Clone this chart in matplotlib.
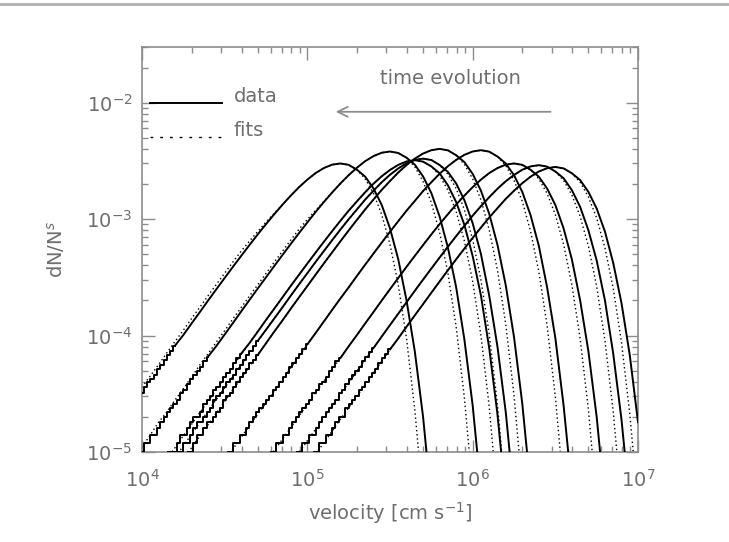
import numpy as np
import matplotlib.pyplot as plt
from matplotlib.lines import Line2D

# velocity bins (cm/s): fine 0.02 dex bins for the sparse low-velocity tails,
# coarse 0.05 dex bins for the well-populated part of each distribution
vel_fine = np.logspace(4, 7, 151)
vel_bins = np.logspace(4, 7, 61)
unit = 1e-5  # all values below are dN/N in units of 1e-5

# snapshots in time order (earliest = fastest); first bin index of each array
tail_start = [52, 47, 39, 26, 14, 11, 8, 0, 0]
body_start = [30, 28, 24, 20, 14, 14, 12, 8, 4]
fit_start = [19, 17, 13, 8, 3, 2, 1, 0, 0]

# low-velocity tails, quantised at one particle (0.2e-5)
tail_1 = [1.0, 1.0, 1.2, 1.2, 1.4, 1.4, 1.6, 1.8, 2.0, 2.0, 2.4, 2.6, 2.8, 3.0, 3.4, 3.6, 4.0, 4.4,
          4.8, 5.2, 5.8, 6.4, 7.0, 7.6]
tail_2 = [1.0, 1.0, 1.2, 1.2, 1.4, 1.4, 1.6, 1.8, 2.0, 2.2, 2.4, 2.6, 2.8, 3.2, 3.4, 3.8, 4.2, 4.6,
          5.0, 5.4, 6.0, 6.6, 7.2, 7.8]
tail_3 = [1.0, 1.0, 1.2, 1.2, 1.4, 1.4, 1.6, 1.8, 2.0, 2.2, 2.4, 2.6, 2.8, 3.2, 3.4, 3.8, 4.0, 4.4,
          5.0, 5.4, 6.0, 6.4]
tail_4 = [1.0, 1.0, 1.2, 1.2, 1.4, 1.4, 1.6, 1.8, 2.0, 2.2, 2.4, 2.6, 2.8, 3.0, 3.4, 3.6, 4.0, 4.4,
          4.8, 5.4, 5.8, 6.4, 7.0, 7.6, 8.4]
tail_5 = [1.0, 1.0, 1.2, 1.4, 1.4, 1.6, 1.8, 1.8, 2.0, 2.2, 2.4, 2.8, 3.0, 3.2, 3.6, 4.0, 4.4, 4.8,
          5.2, 5.8, 6.2, 6.8]
tail_6 = [1.0, 1.0, 1.2, 1.2, 1.4, 1.6, 1.8, 1.8, 2.0, 2.2, 2.4, 2.8, 3.0, 3.2, 3.6, 4.0, 4.2, 4.6,
          5.2, 5.6, 6.2, 6.8, 7.4, 8.2, 9.0]
tail_7 = [1.0, 1.0, 1.0, 1.2, 1.4, 1.4, 1.6, 1.8, 2.0, 2.0, 2.2, 2.6, 2.8, 3.0, 3.4, 3.6, 4.0, 4.4,
          4.8, 5.2, 5.8, 6.4, 7.0]
tail_8 = [1.0, 1.2, 1.2, 1.4, 1.4, 1.6, 1.8, 2.0, 2.2, 2.4, 2.6, 2.8, 3.2, 3.4, 3.8, 4.2, 4.6, 5.0,
          5.4, 6.0, 6.6]
tail_9 = [3.2, 3.6, 4.0, 4.2, 4.6, 5.2, 5.6, 6.2, 6.8, 7.4, 8.2]

# main body of each distribution
body_1 = [7.6, 9.46, 11.9, 14.9, 18.6, 23.3, 29.1, 36.3, 45.1, 55.8, 68.9, 84.5, 103, 124, 149, 175,
          203, 231, 256, 273, 280, 272, 247, 216, 171, 123, 78, 42, 19, 6.8, 1.8]
body_2 = [7.8, 9.80, 12.3, 15.4, 19.3, 24.2, 30.2, 37.6, 46.7, 57.8, 71.3, 87.5, 107, 129, 154, 182,
          211, 239, 265, 283, 290, 282, 256, 224, 177, 127, 80, 44, 20, 7.0, 1.9, 0.36]
body_3 = [6.4, 8.08, 10.1, 12.7, 15.9, 20.0, 25.0, 31.2, 38.9, 48.3, 59.8, 73.8, 90.5, 110, 133, 159,
          188, 218, 248, 274, 293, 300, 292, 265, 231, 183, 132, 83, 45, 20, 7.3, 2.0, 0.37]
body_4 = [8.4, 10.5, 13.2, 16.6, 20.8, 25.9, 32.5, 40.6, 50.5, 62.8, 77.8, 95.9, 118, 143, 174, 207,
          245, 284, 322, 356, 380, 390, 379, 344, 300, 238, 171, 108, 59, 26, 9.5, 2.5, 0.48]
body_5 = [6.8, 8.57, 10.8, 13.5, 17.0, 21.3, 26.6, 33.3, 41.6, 51.8, 64.4, 79.8, 98.4, 121, 147, 178,
          212, 251, 291, 330, 365, 390, 400, 389, 353, 308, 244, 175, 111, 60, 27, 9.7, 2.6, 0.49]
body_6 = [9.0, 11.2, 14.0, 17.5, 22.0, 27.5, 34.3, 42.8, 53.1, 65.8, 81.2, 99.6, 121, 147, 175, 207,
          240, 272, 301, 322, 330, 321, 291, 254, 202, 145, 92, 50, 22, 8.0, 2.2, 0.41]
body_7 = [7.0, 8.61, 10.8, 13.6, 17.0, 21.3, 26.7, 33.3, 41.5, 51.5, 63.8, 78.7, 96.6, 118, 142, 170,
          201, 233, 264, 292, 312, 320, 311, 283, 247, 195, 140, 89, 48, 22, 7.8, 2.1, 0.39]
body_8 = [6.6, 8.14, 10.2, 12.8, 16.1, 20.2, 25.3, 31.6, 39.5, 49.2, 61.2, 75.8, 93.5, 115, 140, 169,
          202, 238, 276, 314, 347, 371, 380, 369, 336, 293, 232, 167, 105, 57, 26, 9.2, 2.5, 0.47]
body_9 = [8.2, 10.1, 12.7, 15.9, 20.0, 25.0, 31.2, 38.9, 48.3, 59.8, 73.8, 90.5, 110, 133, 159, 188,
          218, 248, 274, 293, 300, 292, 265, 231, 183, 132, 83, 45, 20, 7.3, 2.0, 0.37]

# Maxwellian fits on the coarse bins
fit_1 = [0.60, 0.76, 0.96, 1.20, 1.51, 1.91, 2.40, 3.02, 3.79, 4.77, 6.00, 7.54, 9.46, 11.9, 14.9,
         18.6, 23.3, 29.1, 36.3, 45.1, 55.8, 68.9, 84.5, 103, 124, 149, 175, 203, 231, 256, 273, 280,
         272, 247, 207, 155, 102, 56.5, 25.4, 8.74, 2.14, 0.35]
fit_2 = [0.63, 0.79, 0.99, 1.25, 1.57, 1.97, 2.49, 3.13, 3.93, 4.94, 6.21, 7.81, 9.80, 12.3, 15.4,
         19.3, 24.2, 30.2, 37.6, 46.7, 57.8, 71.3, 87.5, 107, 129, 154, 182, 211, 239, 265, 283, 290,
         282, 256, 214, 161, 105.5, 58.5, 26.3, 9.05, 2.22, 0.36]
fit_3 = [0.51, 0.65, 0.81, 1.03, 1.29, 1.62, 2.04, 2.57, 3.23, 4.07, 5.11, 6.43, 8.08, 10.1, 12.7,
         15.9, 20.0, 25.0, 31.2, 38.9, 48.3, 59.8, 73.8, 90.5, 110, 133, 159, 188, 218, 248, 274, 293,
         300, 292, 265, 221, 166, 109, 60.5, 27.2, 9.4, 2.3, 0.37]
fit_4 = [0.53, 0.67, 0.84, 1.06, 1.34, 1.68, 2.11, 2.65, 3.34, 4.20, 5.28, 6.65, 8.36, 10.5, 13.2,
         16.6, 20.8, 25.9, 32.5, 40.6, 50.5, 62.8, 77.8, 95.9, 118, 143, 174, 207, 245, 284, 322, 356,
         380, 390, 379, 344, 288, 215, 142, 78.7, 35.4, 12.2, 2.98, 0.48]
fit_5 = [0.54, 0.69, 0.86, 1.09, 1.37, 1.72, 2.16, 2.72, 3.43, 4.31, 5.42, 6.82, 8.57, 10.8, 13.5,
         17.0, 21.3, 26.6, 33.3, 41.6, 51.8, 64.4, 79.8, 98.4, 121, 147, 178, 212, 251, 291, 330, 365,
         390, 400, 389, 353, 295, 221, 146, 80.7, 36.3, 12.5, 3.06, 0.49]
fit_6 = [0.57, 0.71, 0.90, 1.13, 1.42, 1.79, 2.25, 2.83, 3.56, 4.47, 5.62, 7.07, 8.88, 11.2, 14.0,
         17.5, 22.0, 27.5, 34.3, 42.8, 53.1, 65.8, 81.2, 99.6, 121, 147, 175, 207, 240, 272, 301, 322,
         330, 321, 291, 243, 183, 120, 66.6, 30.0, 10.3, 2.53, 0.41]
fit_7 = [0.55, 0.69, 0.87, 1.09, 1.38, 1.73, 2.18, 2.74, 3.45, 4.34, 5.45, 6.85, 8.61, 10.8, 13.6,
         17.0, 21.3, 26.7, 33.3, 41.5, 51.5, 63.8, 78.7, 96.6, 117.7, 142, 170, 201, 233, 264, 292, 312,
         320, 311, 283, 236, 177, 116, 64.6, 29.1, 10.0, 2.45, 0.39]
fit_8 = [1.1, 1.4, 1.8, 2.2, 2.8, 3.5, 4.4, 5.6, 7.0, 8.8, 11.0, 13.9, 17.4, 21.8, 27.3, 34.1, 42.7,
         53.1, 66.1, 81.9, 99, 119, 142, 169, 202, 238, 276, 314, 347, 371, 380, 369, 336, 280, 210,
         138, 76.7, 34.5, 11.9, 2.9, 0.47]
fit_9 = [3.6, 4.5, 5.6, 7.1, 8.9, 11.1, 14.0, 17.5, 22.0, 27.5, 34.3, 42.8, 53.1, 64.6, 78.2, 94.1,
         112.5, 133, 159, 188, 218, 248, 274, 293, 300, 292, 265, 221, 166, 109, 60.5, 27.2, 9.4, 2.3, 0.37]

tails = [tail_1, tail_2, tail_3, tail_4, tail_5, tail_6, tail_7, tail_8, tail_9]
bodies = [body_1, body_2, body_3, body_4, body_5, body_6, body_7, body_8, body_9]
fits = [fit_1, fit_2, fit_3, fit_4, fit_5, fit_6, fit_7, fit_8, fit_9]

gray = '#8c8c8c'
txt = '#6e6e6e'
fs = 14

fig = plt.figure(figsize=(7.29, 5.42), dpi=100)
ax = fig.add_axes([0.1948, 0.1661, 0.6804, 0.7472])

for i in range(len(tails)):
    f = np.array(fits[i]) * unit
    ax.plot(vel_bins[fit_start[i]:fit_start[i] + len(f)], f,
            color='k', lw=1.0, ls=(0, (1, 2)), zorder=2)

    t = np.array(tails[i]) * unit
    ax.plot(vel_fine[tail_start[i]:tail_start[i] + len(t)], t,
            drawstyle='steps-mid', color='k', lw=1.4, zorder=3)

    b = np.array(bodies[i]) * unit
    ax.plot(vel_bins[body_start[i]:body_start[i] + len(b)], b, color='k', lw=1.4, zorder=3)

ax.set_xscale('log')
ax.set_yscale('log')
ax.set_xlim(1e4, 1e7)
ax.set_ylim(1e-5, 3e-2)

for sp in ax.spines.values():
    sp.set_color(gray)
    sp.set_linewidth(1.2)
ax.tick_params(which='both', direction='in', top=True, right=True, colors=gray,
               labelcolor=txt, labelsize=fs, width=1)
ax.tick_params(which='major', length=9)
ax.tick_params(which='minor', length=4.5)
ax.tick_params(axis='x', which='major', pad=12)
ax.tick_params(axis='y', which='major', pad=7)

ax.set_xlabel('velocity [cm s$^{-1}$]', color=txt, fontsize=fs, labelpad=7)
ax.set_ylabel('dN/N$^s$', color=txt, fontsize=fs, labelpad=14)

# key for data / fits
ax.add_line(Line2D([0.016, 0.161], [0.862, 0.862], transform=ax.transAxes, color='k', lw=1.4))
ax.add_line(Line2D([0.016, 0.161], [0.778, 0.778], transform=ax.transAxes, color='k', lw=1.0,
                   ls=(0, (2, 5))))
ax.text(0.185, 0.877, 'data', transform=ax.transAxes, color=txt, fontsize=fs, va='center')
ax.text(0.185, 0.793, 'fits', transform=ax.transAxes, color=txt, fontsize=fs, va='center')

# time runs towards lower velocities
ax.annotate('', xy=(0.385, 0.84), xytext=(0.829, 0.84), xycoords='axes fraction',
            arrowprops=dict(arrowstyle='->', color=gray, lw=1.3, mutation_scale=18))
ax.text(0.621, 0.923, 'time evolution', transform=ax.transAxes, color=txt, fontsize=fs,
        ha='center', va='center')

fig.add_artist(Line2D([0, 1], [0.992, 0.992], transform=fig.transFigure, color='#b0b0b0', lw=2))

fig.savefig('out.png', dpi=100)
